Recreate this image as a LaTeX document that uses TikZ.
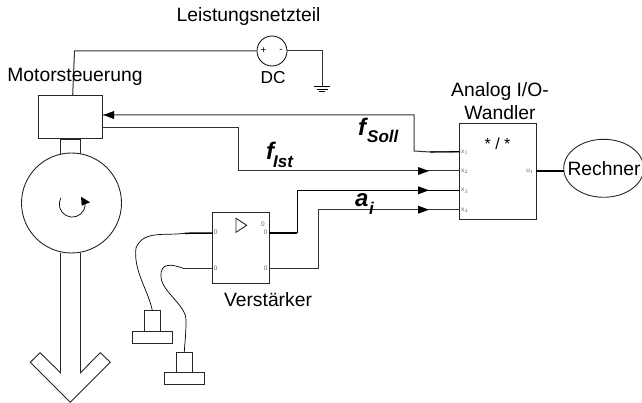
\documentclass[tikz,border=0pt]{standalone}
\usepackage{fontspec}
\setmainfont{Liberation Sans}
\usetikzlibrary{arrows.meta,calc,shapes.geometric}
\tikzset{
  x=1pt,y=-1pt,
  wire/.style={draw=black!80,line width=1pt},
  thin wire/.style={draw=black,line width=0.7pt},
  thick wire/.style={draw=black,line width=1.5pt},
  outline/.style={draw=black!85,line width=0.9pt,fill=none},
  lbl/.style={inner sep=0pt,font=\fontsize{19.3}{23}\selectfont,align=center},
  big/.style={inner sep=0pt,font=\fontsize{24}{26}\selectfont\bfseries\itshape},
  subs/.style={inner sep=0pt,font=\fontsize{17}{18}\selectfont\bfseries\itshape,anchor=base west},
  port/.style={inner sep=0pt,text=black!60,font=\fontsize{6.5}{7}\selectfont},
  boxnode/.style={draw=black!85,line width=0.9pt,inner sep=0pt,rectangle},
  tipmark/.style={fill=black}
}
\newcommand{\boxat}[5]{\node[boxnode,minimum width=#3pt,minimum height=#4pt] (#1) at (#2) {#5};}
\begin{document}
\begin{tikzpicture}
\useasboundingbox (0,0) rectangle (642,403);
% Motor
\boxat{ctrl}{70.25,116.5}{63.5}{43}{}
\boxat{neck}{70.5,147}{20}{16}{}
\node[draw=black!85,line width=0.9pt,fill=white,circle,inner sep=0pt,minimum size=100pt] (motor) at (71.5,203) {};
\draw[thin wire] (60.8,198) arc[start angle=208,end angle=-8,radius=13];
\fill[tipmark] (81,196.7) -- (90,202.3) -- (81.7,205.7) -- cycle;
% Shaft arrow
\draw[outline,line join=miter] (60.5,253) -- (60.5,372.7) -- (40,352.7) -- (30.3,362.3) -- (70.3,402.3) -- (110.3,362.3) -- (100.3,352.7) -- (80.5,372.7) -- (80.5,253);
% DC
\node[draw=black,line width=0.8pt,circle,minimum size=30pt,inner sep=0pt] (dc) at (272,51) {};
\node[inner sep=0pt,font=\fontsize{10}{10}\selectfont] at (263.5,51) {+};
\node[inner sep=0pt,font=\fontsize{10}{10}\selectfont] at (281,51) {-};
\coordinate (gnd) at (322,86.3);
\coordinate (dcl) at (74.5,51);
\coordinate (ctop) at (72.7,95);
\draw[wire] (dc.east) -- (322,51) -- (gnd);
\draw[wire] (dc.west) -- (dcl) -- (ctop);
\draw[thin wire] (314,86.3) -- (330,86.3) (316.5,89) -- (327.5,89) (319,91.5) -- (325,91.5);
% Labels
\node[lbl] at (248.5,17) {Leistungsnetzteil};
\node[lbl,font=\fontsize{17.3}{20}\selectfont] at (273,78) {DC};
\node[lbl] at (75,77) {Motorsteuerung};
\node[lbl] at (500,101.5) {Analog I/O-\\Wandler};
\node[lbl] at (268,300) {Verstärker};
% Wandler
\boxat{io}{497.85,171}{76.3}{96}{}
\node[inner sep=0pt,font=\fontsize{16}{16}\selectfont] at (497.5,144) {* / *};
\foreach \n/\y in {1/151.7,2/171,3/190.3,4/209.7}{
  \coordinate (x\n) at (459.7,\y);
  \node[port,anchor=west] at (461,\y+0.5) {x$_{\scriptscriptstyle\n}$};
}
\coordinate (u1) at (536,171);
\node[port,anchor=east] at (534,171) {u$_{\scriptscriptstyle 1}$};
% Rechner
\node[draw=black!85,line width=0.9pt,ellipse,inner sep=0pt,minimum width=80pt,minimum height=58pt] (rech) at (603.7,168.3) {};
\node[lbl] at (604,168.5) {Rechner};
\draw[thick wire] (u1) -- (563.7,171);
% Amp
\boxat{amp}{241,247.8}{56.6}{70.8}{}
\draw[outline] (236,218.3) -- (246.7,225.3) -- (236,232.3) -- cycle;
\foreach \px/\py in {215.7/232.7,215.7/268.7,265.7/232.7,265.7/268.7,263/224.7}{
  \node[port] at (\px,\py) {0};
}
\coordinate (a1) at (212.7,233);
\coordinate (a2) at (212.7,268.7);
\coordinate (b1) at (269.3,233);
\coordinate (b2) at (269.3,268.7);
% Signals
\coordinate (c1) at (103,115);
\coordinate (c2) at (102,128);
\draw[wire] (x1) -- (430,152) -- (414,151) -- (414,115) -- (c1);
\draw[thick wire,line width=1.1pt] (430,152) -- (x1);
\fill[tipmark] (103.5,115) -- (114,111) -- (114,119) -- cycle;
\draw[wire] (c2) -- (238.7,128) -- (238.7,171) -- (x2);
\fill[tipmark] (418,167) -- (429,171) -- (418,175) -- cycle;
\draw[thick wire] (b1) -- (297,233);
\draw[wire,draw=black] (297,233) -- (297,190.3) -- (x3);
\fill[tipmark] (418,186.3) -- (429,190.3) -- (418,194.3) -- cycle;
\draw[wire] (b2) -- (318.4,268.7) -- (318.4,209.7) -- (x4);
\fill[tipmark] (418,205.7) -- (429,209.7) -- (418,213.7) -- cycle;
\node[big,anchor=base west] at (266,160) {f};
\node[subs] at (273,168) {Ist};
\node[big,anchor=base west] at (358,136) {f};
\node[subs] at (367,143) {Soll};
\node[big,anchor=base west] at (355,207) {a};
\node[subs] at (369,214.5) {i};
% Sensors
\boxat{s1n}{152.3,320.9}{16}{20.3}{}
\boxat{s1b}{152.5,337.2}{40.4}{12.3}{}
\boxat{s2n}{184.3,362.3}{16}{20}{}
\boxat{s2b}{184.3,378.5}{40}{12.3}{}
\coordinate (w1) at (184.3,233.3);
\coordinate (w2) at (184.3,268.7);
\draw[thick wire] (w1) -- (a1);
\draw[wire] (w2) -- (a2);
\draw[thin wire] (w1) .. controls (165,236) and (143,230) .. (136,248) .. controls (133,270) and (148,290) .. (s1n.north);
\draw[thin wire] (w2) .. controls (172,264) and (160,262) .. (161,277) .. controls (162,292) and (186,305) .. (186,320) .. controls (186,335) and (185,340) .. (s2n.north);
\end{tikzpicture}
\end{document}
